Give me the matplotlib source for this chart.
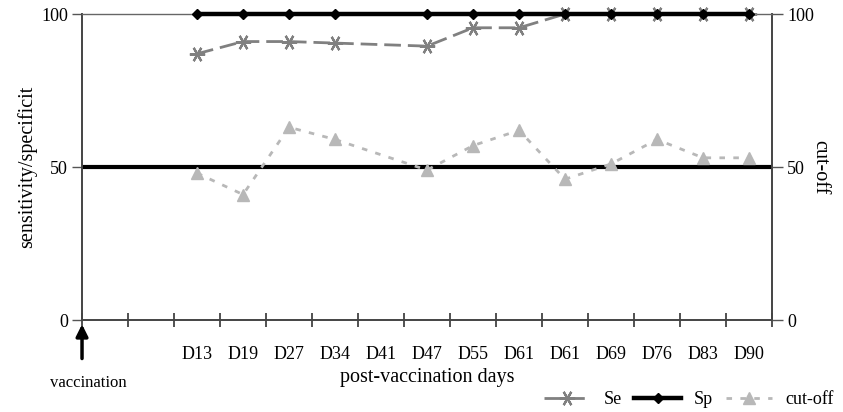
import numpy as np
import matplotlib
matplotlib.use("Agg")
import matplotlib.pyplot as plt

plt.rcParams['font.family'] = ['Liberation Serif', 'DejaVu Serif']

# categories (two empty slots before the first sampling day)
categories = ["", "", "D13", "D19", "D27", "D34", "D41", "D47", "D55",
              "D61", "D61", "D69", "D76", "D83", "D90"]
days = categories[2:]
se = [87, 91, 91, 90.5, np.nan, 89.5, 95.5, 95.5, 100, 100, 100, 100, 100]
sp = [100, 100, 100, 100, np.nan, 100, 100, 100, 100, 100, 100, 100, 100]
cutoff = [48, 41, 63, 59, np.nan, 49, 57, 62, 46, 51, 59, 53, 53]
threshold = 50

fig = plt.figure(figsize=(8.43, 4.12), dpi=100)
ax = fig.add_axes([0.0973, 0.2233, 0.8185, 0.7427])

xpos = np.arange(2, len(categories)) + 0.5


def valid(vals):
    v = np.array(vals, dtype=float)
    m = ~np.isnan(v)
    return xpos[m], v[m]


ax.axhline(threshold, color='black', lw=3, zorder=2)
x, y = valid(sp)
ax.plot(x, y, color='black', lw=3.2, marker='D', ms=5, zorder=6,
        clip_on=False, label='Sp')
x, y = valid(se)
ax.plot(x, y, color='#808080', lw=2, ls=(0, (6, 2.5)), marker=(6, 2, 90),
        ms=11, mew=1.6, zorder=5, clip_on=False, label='Se')
x, y = valid(cutoff)
ax.plot(x, y, color='#b8b8b8', lw=2, ls=(0, (2, 3)), marker='^', ms=9,
        zorder=3, label='cut-off')

ax.set_xlim(0, len(categories))
ax.set_ylim(0, 100)
ax.set_yticks([0, 50, 100])
ax.set_xticks(np.arange(0, len(categories) + 1))
ax.set_xticklabels([])
ax.set_xticks(np.arange(len(categories)) + 0.5, minor=True)
ax.set_xticklabels(categories, minor=True)
ax.tick_params(axis='x', which='major', direction='inout', length=10,
               width=1.2, color='#333333')
ax.tick_params(axis='x', which='minor', length=0, pad=19, labelsize=13)
ax.tick_params(axis='y', direction='out', length=7, width=1, color='#555555',
               labelsize=13, pad=3)

for s in ['left', 'bottom', 'right']:
    ax.spines[s].set_color('#444444')
    ax.spines[s].set_linewidth(1.4)
ax.spines['top'].set_color('#666666')
ax.spines['top'].set_linewidth(1)

ax.set_ylabel('sensitivity/specificit', fontsize=14.5, labelpad=3)
ax.set_xlabel('post-vaccination days', fontsize=14.5, labelpad=3)

ax2 = ax.twinx()
ax2.set_ylim(0, 100)
ax2.set_yticks([0, 50, 100])
ax2.tick_params(axis='y', direction='out', length=8, width=1, color='#555555',
                labelsize=13, pad=3)
for s in ax2.spines.values():
    s.set_visible(False)
ax2.set_ylabel('cut-off', fontsize=14.5, rotation=270, labelpad=11)

# vaccination arrow
ax.annotate('', xy=(0, -0.005), xytext=(0, -0.135), xycoords='axes fraction',
            arrowprops=dict(arrowstyle='-|>,head_width=0.35,head_length=0.7',
                            color='black', lw=2.5), annotation_clip=False)
ax.text(0.009, -0.205, 'vaccination', transform=ax.transAxes, ha='center',
        va='center', fontsize=12)

h, l = ax.get_legend_handles_labels()
order = [l.index('Se'), l.index('Sp'), l.index('cut-off')]
fig.legend([h[i] for i in order], [l[i] for i in order], loc='lower right',
           bbox_to_anchor=(1.008, -0.03), ncol=3, frameon=False, fontsize=13,
           handlelength=2.6, columnspacing=0.7, handletextpad=0.7)

fig.savefig('out.png', dpi=100)
